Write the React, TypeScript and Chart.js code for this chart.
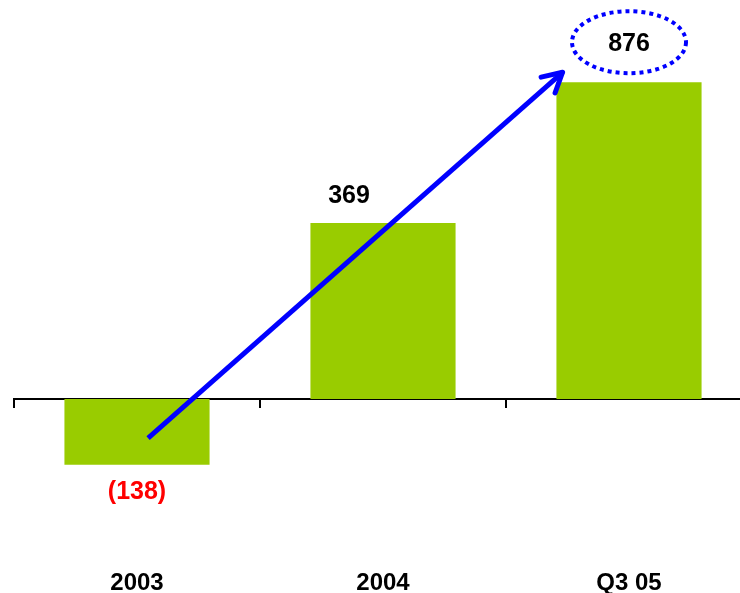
import React, { useEffect, useRef } from "react";
import { Chart, registerables } from "chart.js";

Chart.register(...registerables);

// ---- data ----
const categories = ["2003", "2004", "Q3 05"];
// bar heights as drawn in the picture (the last bar is drawn shorter than its label)
const barHeights = [-138, 369, 664];
const valueLabels = ["(138)", "369", "876"];
const valueLabelColors = ["#FF0000", "#000000", "#000000"];
// trend arrow, in (category index, value) units
const trendX = [0.045, 1.73];
const trendY = [-82, 685];
// highlighted value (dotted ellipse)
const highlightIndex = 2;
const highlightValue = 748;

const FONT = "'Liberation Sans', Arial, Helvetica, sans-serif";

const overlayPlugin = {
  id: "overlay",
  afterDatasetsDraw(chart: any) {
    const ctx = chart.ctx as CanvasRenderingContext2D;
    const bars = chart.getDatasetMeta(0).data;
    const pts = chart.getDatasetMeta(1).data;
    const xs = chart.scales.x;
    const ys = chart.scales.y;
    ctx.save();
    // arrow head
    const p0 = pts[0];
    const p1 = pts[pts.length - 1];
    const ang = Math.atan2(p1.y - p0.y, p1.x - p0.x);
    ctx.strokeStyle = "#0000FF";
    ctx.lineWidth = 5;
    ctx.lineCap = "round";
    ctx.lineJoin = "round";
    ctx.beginPath();
    for (const s of [-1, 1]) {
      ctx.moveTo(p1.x, p1.y);
      ctx.lineTo(p1.x - 22 * Math.cos(ang + s * 0.5), p1.y - 22 * Math.sin(ang + s * 0.5));
    }
    ctx.stroke();
    // dotted ellipse
    const cx = xs.getPixelForValue(highlightIndex);
    const cy = ys.getPixelForValue(highlightValue);
    ctx.setLineDash([4, 4]);
    ctx.lineWidth = 4;
    ctx.lineCap = "butt";
    ctx.beginPath();
    ctx.ellipse(cx, cy, 57, 31, 0, 0, Math.PI * 2);
    ctx.stroke();
    ctx.setLineDash([]);
    // value labels
    ctx.font = `bold 25px ${FONT}`;
    ctx.textAlign = "center";
    ctx.textBaseline = "middle";
    bars.forEach((b: any, i: number) => {
      let x = b.x;
      let y: number;
      if (i === highlightIndex) {
        y = cy + 2;
      } else if (barHeights[i] < 0) {
        y = b.y + 27;
      } else {
        y = b.y - 27;
        x = b.x - 34;
      }
      ctx.fillStyle = valueLabelColors[i];
      ctx.fillText(valueLabels[i], x, y);
    });
    ctx.restore();
  },
};

export default function App() {
  const ref = useRef<HTMLCanvasElement>(null);
  useEffect(() => {
    if (!ref.current) return;
    const chart = new Chart(ref.current, {
      type: "bar",
      data: {
        labels: categories,
        datasets: [
          {
            type: "bar",
            data: barHeights,
            backgroundColor: "#99CC00",
            borderWidth: 0,
            barPercentage: 0.59,
            categoryPercentage: 1,
            grouped: false,
            xAxisID: "x",
            yAxisID: "y",
            order: 2,
          } as any,
          {
            type: "line",
            data: trendX.map((x, i) => ({ x, y: trendY[i] })),
            borderColor: "#0000FF",
            borderWidth: 5,
            pointRadius: 0,
            fill: false,
            xAxisID: "xl",
            yAxisID: "y",
            order: 1,
          } as any,
        ],
      },
      options: {
        responsive: false,
        animation: false,
        layout: { padding: { left: 14, right: 8, top: 0, bottom: 0 } },
        plugins: { legend: { display: false }, tooltip: { enabled: false } },
        scales: {
          x: {
            type: "category",
            position: { y: 0 } as any,
            offset: true,
            grid: {
              display: true,
              offset: true,
              drawOnChartArea: false,
              drawTicks: true,
              tickLength: 8,
              color: "#000000",
              lineWidth: 2,
            },
            border: { display: true, color: "#000000", width: 2 },
            ticks: {
              display: true,
              color: "#000000",
              padding: 162,
              font: { family: FONT, size: 24, weight: "bold" },
              maxRotation: 0,
              autoSkip: false,
            },
            afterFit: (s: any) => {
              s.height = 0;
              s.paddingLeft = 0;
              s.paddingRight = 0;
              s.paddingTop = 0;
              s.paddingBottom = 0;
            },
          },
          xl: { type: "linear", display: false, offset: false, min: -0.5, max: 2.5 },
          y: { display: false, min: -406.7, max: 836.5 },
        },
      } as any,
      plugins: [overlayPlugin],
    });
    return () => chart.destroy();
  }, []);
  return (
    <div style={{ position: "absolute", left: 0, top: 0, width: 740, height: 593, overflow: "hidden" }}>
      <canvas ref={ref} width={760} height={593} style={{ display: "block" }} />
    </div>
  );
}
